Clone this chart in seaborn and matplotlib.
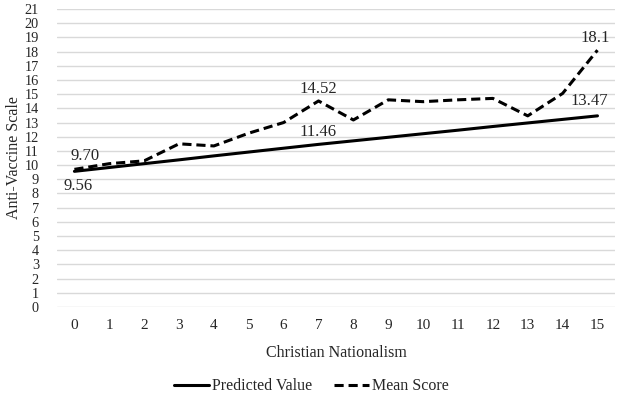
import matplotlib
matplotlib.use("Agg")
import matplotlib.pyplot as plt
import seaborn as sns
import pandas as pd
from matplotlib.lines import Line2D

x_vals = list(range(16))
predicted = [9.56, 9.83, 10.10, 10.37, 10.65, 10.92, 11.19, 11.46,
             11.71, 11.96, 12.21, 12.46, 12.72, 12.97, 13.22, 13.47]
mean_score = [9.70, 10.10, 10.30, 11.50, 11.35, 12.25, 13.00, 14.52,
              13.18, 14.60, 14.47, 14.60, 14.70, 13.47, 15.05, 18.10]
y_ticks = list(range(0, 22))

sns.set_theme(style="white")
plt.rcParams['font.family'] = ['Liberation Serif', 'DejaVu Serif']

df = pd.DataFrame({
    "Christian Nationalism": x_vals * 2,
    "value": predicted + mean_score,
    "series": ["Predicted Value"] * 16 + ["Mean Score"] * 16,
})

fig = plt.figure(figsize=(6.2, 3.95), dpi=100)
ax = fig.add_axes([0.0919, 0.2228, 0.8999, 0.7544])

sns.lineplot(data=df, x="Christian Nationalism", y="value", hue="series",
             style="series", palette={"Predicted Value": "black", "Mean Score": "black"},
             dashes={"Predicted Value": "", "Mean Score": (3, 1.6)},
             linewidth=2.2, legend=False, ax=ax)

ax.set_xlim(-0.5, 15.5)
ax.set_ylim(0, 21)
ax.set_xticks(x_vals)
ax.set_xticklabels([str(v) for v in x_vals])
ax.set_yticks(y_ticks)
ax.set_yticklabels([str(v) for v in y_ticks])
ax.yaxis.grid(True, color="#d9d9d9", linewidth=1.0)
ax.xaxis.grid(False)
ax.set_axisbelow(True)
for s in ax.spines.values():
    s.set_visible(False)
ax.tick_params(axis="x", length=0, labelsize=11, colors="#262626", pad=9)
ax.tick_params(axis="y", length=0, labelsize=10.3, colors="#262626", pad=13)
ax.set_xlabel("Christian Nationalism", fontsize=11.5, color="#262626", labelpad=9)
ax.set_ylabel("Anti-Vaccine Scale", fontsize=11.5, color="#262626", labelpad=2)

fs = 12
tc = "#262626"
ax.annotate("9.70", (0, mean_score[0]), xytext=(-3, 4), textcoords="offset points",
            ha="left", va="bottom", fontsize=fs, color=tc)
ax.annotate("9.56", (0, predicted[0]), xytext=(-8, -5), textcoords="offset points",
            ha="left", va="top", fontsize=fs, color=tc)
ax.annotate("14.52", (7, mean_score[7]), xytext=(0, 3), textcoords="offset points",
            ha="center", va="bottom", fontsize=fs, color=tc)
ax.annotate("11.46", (7, predicted[7]), xytext=(0, 3), textcoords="offset points",
            ha="center", va="bottom", fontsize=fs, color=tc)
ax.annotate("18.1", (15, mean_score[15]), xytext=(-2, 3), textcoords="offset points",
            ha="center", va="bottom", fontsize=fs, color=tc)
ax.annotate("13.47", (15, predicted[15]), xytext=(-6, 5), textcoords="offset points",
            ha="center", va="bottom", fontsize=fs, color=tc)

handles = [Line2D([], [], color="black", linewidth=2.2),
           Line2D([], [], color="black", linewidth=2.2, linestyle=(0, (3, 1.6)))]
fig.legend(handles, ["Predicted Value", "Mean Score"], loc="center",
           bbox_to_anchor=(0.502, 0.022), ncol=2, frameon=False, fontsize=11.5,
           handlelength=2.2, handletextpad=0.15, columnspacing=1.4,
           borderpad=0, borderaxespad=0)

fig.savefig("out.png", dpi=100)
